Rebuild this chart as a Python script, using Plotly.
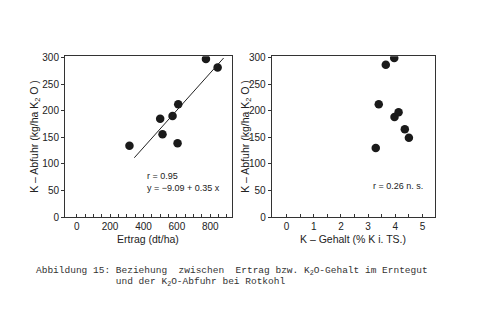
import plotly.graph_objects as go

# Yield (dt/ha) vs. K removal (kg/ha K2O)
ertrag = [316, 500, 514, 574, 608, 604, 774, 844]
abfuhr_1 = [134, 185, 156, 190, 212, 139, 297, 281]

# K content (% K in dry matter) vs. K removal
k_gehalt = [3.28, 3.39, 3.65, 3.96, 3.97, 4.12, 4.35, 4.50]
abfuhr_2 = [130, 212, 286, 299, 188, 197, 165, 149]

# Regression line y = a + b x
reg_a, reg_b = -9.09, 0.35
reg_x = [345, 880]
reg_y = [reg_a + reg_b * x for x in reg_x]

W, H = 493, 326
FONT = "Liberation Sans, Arial, sans-serif"
INK = "#222222"

fig = go.Figure()
marker = dict(color="#1a1a1a", size=8.5, line=dict(width=0))
fig.add_trace(go.Scatter(x=ertrag, y=abfuhr_1, mode="markers", marker=marker,
                         xaxis="x", yaxis="y", showlegend=False))
fig.add_trace(go.Scatter(x=reg_x, y=reg_y, mode="lines", line=dict(color="#222", width=1),
                         xaxis="x", yaxis="y", showlegend=False, cliponaxis=True))
fig.add_trace(go.Scatter(x=k_gehalt, y=abfuhr_2, mode="markers", marker=marker,
                         xaxis="x2", yaxis="y2", showlegend=False))

ydom = [1 - 220 / H, 1 - 54 / H]
common = dict(showgrid=False, zeroline=False, showline=True, linecolor="#333", linewidth=1,
              mirror=True, tickfont=dict(family=FONT, size=10, color=INK), ticks="outside",
              ticklen=3, tickcolor="#333")
xcommon = dict(common, ticks="inside", ticklen=3)

fig.update_layout(
    width=W, height=H, margin=dict(l=0, r=0, t=0, b=0),
    paper_bgcolor="white", plot_bgcolor="white",
    xaxis=dict(xcommon, domain=[65 / W, 232 / W], range=[-70, 930],
               tickvals=[0, 200, 400, 600, 800], anchor="y",
               minor=dict(tickvals=list(range(0, 930, 50)), ticks="inside", ticklen=3, tickcolor="#333")),
    yaxis=dict(common, domain=ydom, range=[0, 302], tickvals=[0, 50, 100, 150, 200, 250, 300],
               anchor="x"),
    xaxis2=dict(xcommon, domain=[271.7 / W, 434.7 / W], range=[-0.55, 5.45],
                tickvals=[0, 1, 2, 3, 4, 5], anchor="y2",
                minor=dict(tickvals=[i * 0.5 for i in range(0, 11)], ticks="inside", ticklen=3, tickcolor="#333")),
    yaxis2=dict(common, domain=ydom, range=[0, 302], tickvals=[0, 50, 100, 150, 200, 250, 300],
                anchor="x2"),
)

ytitle = "K – Abfuhr (kg/ha K<sub>2</sub> O )"
tf = dict(family=FONT, size=10.5, color=INK)
ann = [
    dict(x=35 / W, y=1 - 137 / H, text=ytitle, textangle=-90),
    dict(x=246 / W, y=1 - 137 / H, text=ytitle, textangle=-90),
    dict(x=148 / W, y=1 - 242 / H, text="Ertrag (dt/ha)"),
    dict(x=353 / W, y=1 - 242 / H, text="K – Gehalt (% K i. TS.)"),
]
annotations = [dict(a, xref="paper", yref="paper", showarrow=False, font=tf,
                    xanchor="center", yanchor="middle") for a in ann]

# In-plot statistics
sf = dict(family=FONT, size=9, color=INK)
annotations += [
    dict(x=145 / W, y=1 - 177 / H, text="r = 0.95"),
    dict(x=145 / W, y=1 - 190 / H, text="y = −9.09 + 0.35 x"),
    dict(x=371 / W, y=1 - 188 / H, text="r = 0.26 n. s."),
]
for a in annotations[4:]:
    a.update(xref="paper", yref="paper", showarrow=False, font=sf, xanchor="left", yanchor="middle")

# Caption
cf = dict(family="Liberation Mono, Courier New, monospace", size=9.5, color="#333")
annotations += [
    dict(x=34 / W, y=1 - 275 / H,
         text="Abbildung 15: Beziehung&nbsp;&nbsp;zwischen&nbsp;&nbsp;Ertrag bzw. K<sub>2</sub>O-Gehalt im Erntegut"),
    dict(x=34 / W, y=1 - 287 / H,
         text="&nbsp;" * 14 + "und der K<sub>2</sub>O-Abfuhr bei Rotkohl"),
]
for a in annotations[7:]:
    a.update(xref="paper", yref="paper", showarrow=False, font=cf, xanchor="left", yanchor="middle")

fig.update_layout(annotations=annotations)
fig.write_html("out.html")
